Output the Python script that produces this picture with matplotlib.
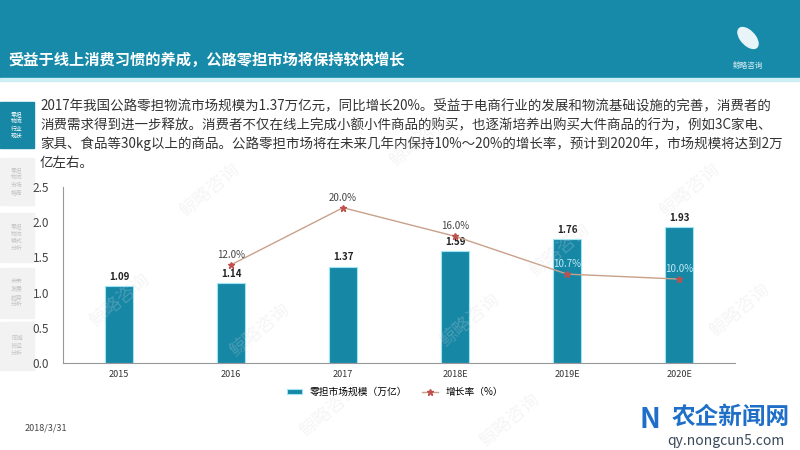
import matplotlib.pyplot as plt
from matplotlib.patches import Rectangle, Ellipse
import numpy as np

plt.rcParams['font.family'] = ['Noto Sans CJK SC', 'DejaVu Sans']

# 数据
years = ['2015', '2016', '2017', '2018E', '2019E', '2020E']
market_size = [1.09, 1.14, 1.37, 1.59, 1.76, 1.93]
growth_years = ['2016', '2017', '2018E', '2019E', '2020E']
growth_rate = [0.12, 0.20, 0.16, 0.107, 0.10]
growth_labels = ['12.0%', '20.0%', '16.0%', '10.7%', '10.0%']

title = '受益于线上消费习惯的养成，公路零担市场将保持较快增长'
para = ['2017年我国公路零担物流市场规模为1.37万亿元，同比增长20%。受益于电商行业的发展和物流基础设施的完善，消费者的',
        '消费需求得到进一步释放。消费者不仅在线上完成小额小件商品的购买，也逐渐培养出购买大件商品的行为，例如3C家电、',
        '家具、食品等30kg以上的商品。公路零担市场将在未来几年内保持10%～20%的增长率，预计到2020年，市场规模将达到2万',
        '亿左右。']
side_items = ['零担\n物流\n行业\n现状', '零担\n物流\n市场\n格局', '零担\n物流\n模式\n分析',
              '未来\n发展\n趋势\n分析', '同城\n货运\n分析']

teal = '#1787a6'
W, H = 800, 450


def fx(px):
    return px / W


def fy(py):
    return 1 - py / H


fig = plt.figure(figsize=(8, 4.5), dpi=100)

# 顶部标题栏
fig.patches.append(Rectangle((0, fy(78)), 1, 78 / H, transform=fig.transFigure,
                             color='#168aa8', zorder=-2))
fig.patches.append(Rectangle((0, fy(81)), 1, 3 / H, transform=fig.transFigure,
                             color='#cdeef5', zorder=-2))
fig.text(fx(8), fy(60), title, color='white', fontsize=11, fontweight='bold',
         va='center', ha='left')
fig.patches.append(Ellipse((fx(748), fy(38)), 16 / W, 22 / H, angle=20,
                           transform=fig.transFigure, color='#e8f4f8', zorder=1))
fig.text(fx(748), fy(66), '鲸略咨询', color='#d8eef4', fontsize=5.5, ha='center', va='center')

# 左侧导航
box_y = [(102, 148), (158, 205), (213, 262), (268, 318), (322, 370)]
for i, (t, (y0, y1)) in enumerate(zip(side_items, box_y)):
    c = teal if i == 0 else '#f2f2f2'
    fig.patches.append(Rectangle((0, fy(y1)), 34 / W, (y1 - y0) / H,
                                 transform=fig.transFigure, color=c, zorder=-2))
    fig.text(fx(17), fy((y0 + y1) / 2), t, fontsize=4.2, ha='center', va='center',
             color='white' if i == 0 else '#c4c4c4', linespacing=1.5)

# 正文
for i, line in enumerate(para):
    fig.text(fx(40), fy(106 + i * 19), line, fontsize=9.7, color='#333333',
             ha='left', va='center')

# 水印
for (wx, wy) in [(210, 190), (260, 330), (420, 140), (470, 320), (560, 250),
                 (690, 190), (740, 310), (330, 410), (510, 420), (120, 300)]:
    fig.text(fx(wx), fy(wy), '鲸略咨询', fontsize=13, rotation=40, color='#d8d8d8',
             alpha=0.25, ha='center', va='center', zorder=5)

# 主图
ax = fig.add_axes([fx(63), fy(363), (735 - 63) / W, (363 - 187) / H])
ax.patch.set_alpha(0)
x = np.arange(len(years))
bars = ax.bar(x, market_size, width=0.25, color=teal, edgecolor='#9fe6f5',
              linewidth=0.8, label='零担市场规模（万亿）', zorder=2)
for xi, v in zip(x, market_size):
    ax.text(xi, v + 0.06, f'{v:.2f}', ha='center', va='bottom', fontsize=7,
            color='#222222', fontweight='bold')
ax.set_xlim(-0.5, len(years) - 0.5)
ax.set_ylim(0, 2.5)
ax.set_yticks([0, 0.5, 1.0, 1.5, 2.0, 2.5])
ax.set_yticklabels([f'{t:.1f}' for t in ax.get_yticks()])
ax.set_xticks(x)
ax.set_xticklabels(years)
ax.tick_params(axis='y', length=0, labelsize=8.5, labelcolor='#444444', pad=10)
ax.tick_params(axis='x', length=0, labelsize=6.5, labelcolor='#333333', pad=5)
for s in ['top', 'right']:
    ax.spines[s].set_visible(False)
ax.spines['left'].set_color('#999999')
ax.spines['bottom'].set_color('#999999')

ax2 = ax.twinx()
gx = [years.index(g) for g in growth_years]
line, = ax2.plot(gx, growth_rate, color='#c9a08a', linewidth=1, marker='*',
                 markersize=5, markerfacecolor='#c0504d', markeredgecolor='#c0504d',
                 label='增长率（%）', zorder=3)
ax2.set_ylim(-0.0175, 0.229)
ax2.axis('off')
for xi, v, lab in zip(gx, growth_rate, growth_labels):
    inside = market_size[xi] > 1.7
    ax2.text(xi, v + 0.007, lab, ha='center', va='bottom', fontsize=7,
             color='#bfeaf5' if inside else '#444444')

fig.legend(handles=[bars, line], loc='center', bbox_to_anchor=(fx(395), fy(392)),
           ncol=2, frameon=False, fontsize=7, handlelength=1.6, handleheight=0.5,
           columnspacing=1.5)

# 底部
fig.text(fx(25), fy(428), '2018/3/31', fontsize=6.5, color='#444444', va='center')
fig.text(fx(731), fy(417), '农企新闻网', fontsize=17, color='#1f6fc8',
         fontweight='bold', ha='center', va='center')
fig.text(fx(726), fy(441), 'qy.nongcun5.com', fontsize=10, color='#3a4a5a',
         ha='center', va='center')
fig.text(fx(650), fy(420), 'N', fontsize=20, color='#1f6fc8', fontweight='bold',
         ha='center', va='center')

fig.savefig('out.png', dpi=100)
